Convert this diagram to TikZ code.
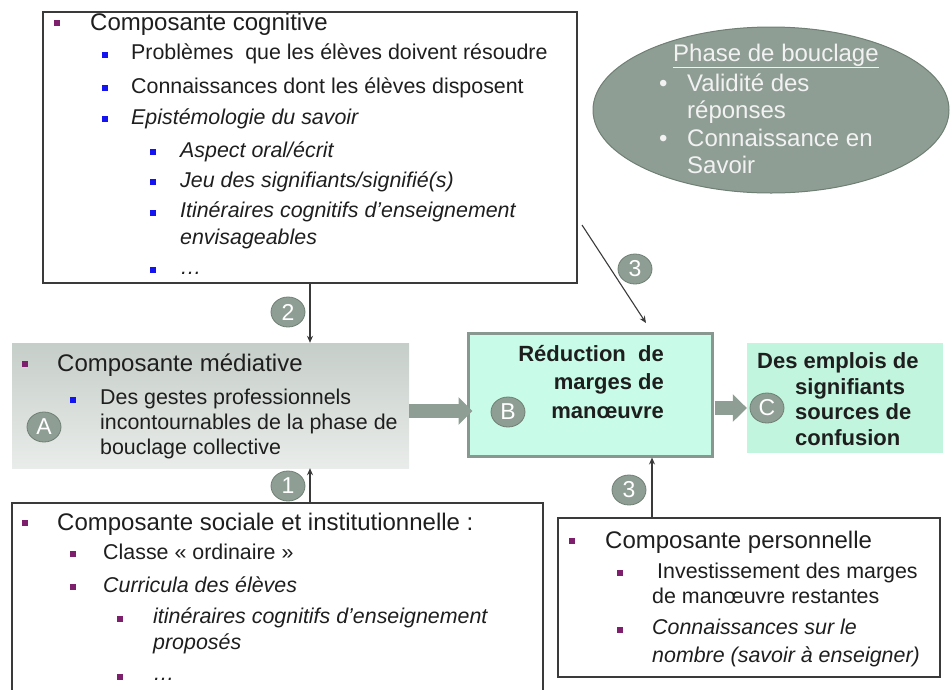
\documentclass[tikz,border=0pt]{standalone}
\usepackage{fontspec}
\setmainfont{Liberation Sans}
\usetikzlibrary{shapes.geometric,arrows.meta,shadows}
\definecolor{txt}{HTML}{1E1E1E}
\definecolor{cg}{HTML}{8F9E94}
\definecolor{cgd}{HTML}{6F7F74}
\definecolor{bp}{HTML}{7E1F6E}
\definecolor{bb}{HTML}{1414F0}
\definecolor{mint}{HTML}{C8FCE8}
\definecolor{minttwo}{HTML}{C2F5DE}
\definecolor{medtop}{HTML}{C6CEC9}
\definecolor{medbot}{HTML}{E9ECEA}
\definecolor{lineg}{HTML}{3A3A3A}
\definecolor{redborder}{HTML}{889790}
\begin{document}
\begin{tikzpicture}[x=1pt,y=-1pt,
  frame/.style={rectangle, draw=lineg, line width=1.4pt, inner sep=0},
  tA/.style={anchor=base west, inner sep=0, text=txt, font=\fontsize{24}{28}\selectfont},
  tB/.style={anchor=base west, inner sep=0, text=txt, font=\fontsize{21.4}{26}\selectfont},
  tBi/.style={tB, font=\fontsize{21.4}{26}\selectfont\itshape},
  tBold/.style={inner sep=0, text=txt, font=\fontsize{22}{26}\selectfont\bfseries},
  tE/.style={anchor=base west, inner sep=0, text=white!95!black, font=\fontsize{24}{28}\selectfont},
  bP/.style={rectangle, fill=bp, minimum size=6pt, inner sep=0},
  bB/.style={rectangle, fill=bb, minimum size=6pt, inner sep=0},
  circ/.style={ellipse, fill=cg, draw=cgd, line width=0.8pt, minimum width=34pt, minimum height=30pt, inner sep=0, text=white, font=\fontsize{23}{23}\selectfont},
  thin arrow/.style={draw=lineg, line width=1.1pt, -{Stealth[length=7pt,width=6pt]}},
  big arrow/.style={draw=cg, line width=14pt, -{Triangle[length=14pt,width=27pt]}}
]
\useasboundingbox (0,0) rectangle (951,689);
\clip (0,0) rectangle (951,689);

% ---------- boxes ----------
\node[frame, minimum width=534pt, minimum height=271pt] (cog) at (310,147.5) {};
\node[ellipse, fill=cg, draw=cgd, line width=1pt, minimum width=356pt, minimum height=166pt, inner sep=0] (ell) at (771,110) {};
\node[rectangle, inner sep=0, top color=medtop, bottom color=medbot, minimum width=397pt, minimum height=125pt] (med) at (210.5,405.5) {};
\node[rectangle, inner sep=0, fill=mint, draw=redborder, line width=3pt, drop shadow={shadow xshift=2pt, shadow yshift=-2pt, fill=gray!80}, minimum width=244pt, minimum height=123pt] (red) at (590,394.5) {};
\node[rectangle, inner sep=0, fill=minttwo, minimum width=196pt, minimum height=110pt] (conf) at (845,398) {};
\node[frame, minimum width=531pt, minimum height=197pt] (soc) at (277.5,601.5) {};
\node[frame, minimum width=382pt, minimum height=159pt] (pers) at (749,597.5) {};

% ---------- composante cognitive ----------
\node[bP] (cb0) at (57,23) {};
\node[tA] (ct0) at (90,30) {Composante cognitive};
\node[bB] (cb1) at (105,55) {};
\node[tB] (ct1) at (131,59) {Problèmes\ \ que les élèves doivent résoudre};
\node[bB] (cb2) at (105,88) {};
\node[tB] (ct2) at (131,93) {Connaissances dont les élèves disposent};
\node[bB] (cb3) at (105,119) {};
\node[tBi] (ct3) at (131,124) {Epistémologie du savoir};
\node[bB] (cb4) at (153,152) {};
\node[tBi] (ct4) at (180,157) {Aspect oral/écrit};
\node[bB] (cb5) at (153,182) {};
\node[tBi] (ct5) at (180,187) {Jeu des signifiants/signifié(s)};
\node[bB] (cb6) at (153,213) {};
\node[tBi] (ct6) at (180,217) {Itinéraires cognitifs d’enseignement};
\node[tBi] (ct7) at (180,244) {envisageables};
\node[bB] (cb8) at (153,270) {};
\node[tBi] (ct8) at (180,274) {…};

% ---------- ellipse ----------
\node[tE] (e0) at (673,61) {\underline{Phase de bouclage}};
\node[tE] (eb1) at (659,91) {•};
\node[tE] (e1) at (687,91) {Validité des};
\node[tE] (e2) at (687,118) {réponses};
\node[tE] (eb3) at (659,146) {•};
\node[tE] (e3) at (687,146) {Connaissance en};
\node[tE] (e4) at (687,173) {Savoir};

% ---------- médiative ----------
\node[bP] (mb0) at (25,364) {};
\node[tA] (mt0) at (57,371) {Composante médiative};
\node[bB] (mb1) at (73,400) {};
\node[tB] (mt1) at (100,404) {Des gestes professionnels};
\node[tB] (mt2) at (100,429) {incontournables de la phase de};
\node[tB] (mt3) at (100,454) {bouclage collective};

% ---------- réduction ----------
\node[tBold, anchor=base east] (r1) at (664,361) {Réduction\ \ de};
\node[tBold, anchor=base east] (r2) at (664,389) {marges de};
\node[tBold, anchor=base east] (r3) at (664,418) {manœuvre};

% ---------- confusion ----------
\node[tBold, anchor=base west] (c1) at (757,368) {Des emplois de};
\node[tBold, anchor=base west] (c2) at (795,394) {signifiants};
\node[tBold, anchor=base west] (c3) at (795,419) {sources de};
\node[tBold, anchor=base west] (c4) at (795,445) {confusion};

% ---------- sociale ----------
\node[bP] (sb0) at (25,523) {};
\node[tA] (st0) at (57,530) {Composante sociale et institutionnelle :};
\node[bP] (sb1) at (73,554) {};
\node[tB] (st1) at (103,559) {Classe « ordinaire »};
\node[bP] (sb2) at (73,587) {};
\node[tBi] (st2) at (103,592) {Curricula des élèves};
\node[bP] (sb3) at (120,619) {};
\node[tBi] (st3) at (153,623) {itinéraires cognitifs d’enseignement};
\node[tBi] (st4) at (153,649) {proposés};
\node[bP] (sb5) at (120,677) {};
\node[tBi] (st5) at (153,680) {…};

% ---------- personnelle ----------
\node[bP] (pb0) at (572,541) {};
\node[tA] (pt0) at (605,548) {Composante personnelle};
\node[bP] (pb1) at (620,573) {};
\node[tB] (pt1) at (657,578) {Investissement des marges};
\node[tB] (pt2) at (652,603) {de manœuvre restantes};
\node[bP] (pb3) at (620,630) {};
\node[tBi] (pt3) at (652,634) {Connaissances sur le};
\node[tBi] (pt4) at (652,662) {nombre (savoir à enseigner)};

% ---------- connectors ----------
\coordinate (xa) at (310,0);
\coordinate (xp) at (652,0);
\coordinate (ya) at (0,411);
\coordinate (yb) at (0,408);
\coordinate (s3) at (582,225);
\coordinate (e3) at (646,323);
\draw[thin arrow] (cog.south -| xa) -- (med.north -| xa);
\draw[thin arrow] (soc.north -| xa) -- (med.south -| xa);
\draw[thin arrow] (pers.north -| xp) -- (red.south -| xp);
\draw[thin arrow] (s3) -- (e3);
\draw[big arrow] (med.east |- ya) -- ([xshift=6pt]red.west |- ya);
\draw[big arrow] ([xshift=1pt]red.east |- yb) -- (conf.west |- yb);

% ---------- circled labels ----------
\node[circ] (cA) at (44,427) {A};
\node[circ] (cB) at (508,412) {B};
\node[circ] (cC) at (767,408) {C};
\node[circ] (n2) at (288,312) {2};
\node[circ] (n3a) at (635,269) {3};
\node[circ] (n1) at (288,486) {1};
\node[circ] (n3b) at (629,490) {3};
\end{tikzpicture}
\end{document}
